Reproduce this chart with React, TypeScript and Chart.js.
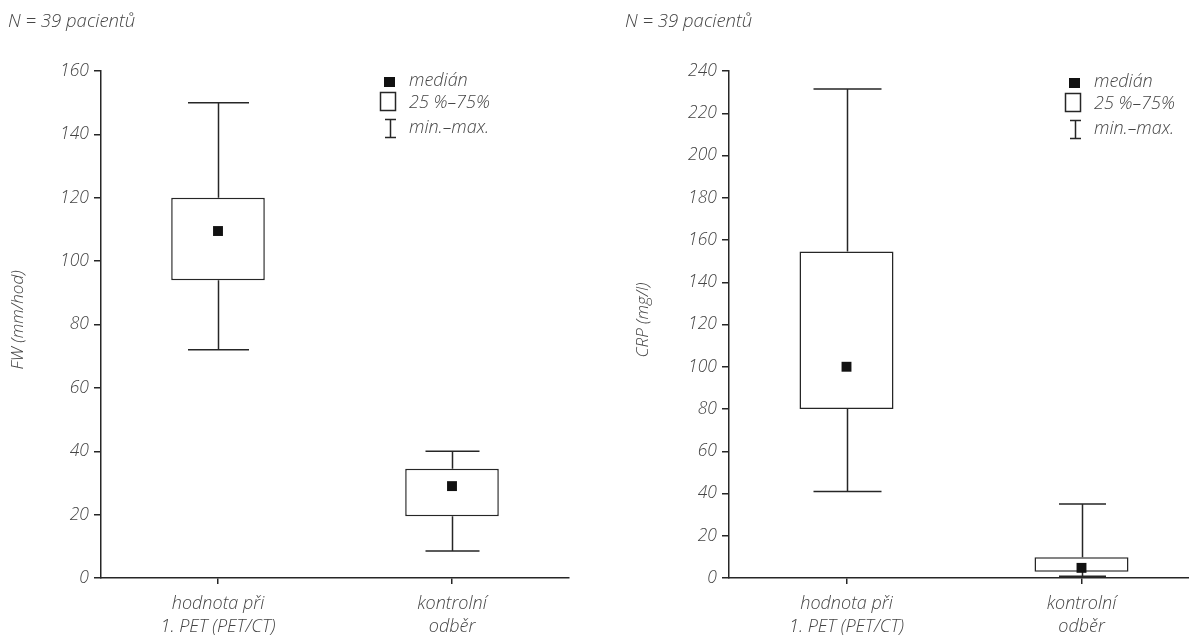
import React, { useEffect, useRef } from "react";
import { Chart, registerables } from "chart.js";

Chart.register(...registerables);

// ---------- data ----------
const categories = [["hodnota při", "1. PET (PET/CT)"], ["kontrolní", "odběr"]];
const titleText = "N = 39 pacientů";
const legendLabels = ["medián", "25 %–75%", "min.–max."];

const fwTitle = "FW (mm/hod)";
const fwMin = [72, 8.5];
const fwQ1 = [94, 19.5];
const fwMedian = [109.5, 29];
const fwQ3 = [120, 34.5];
const fwMax = [150, 40];
const fwAxisMax = 160;

const crpTitle = "CRP (mg/l)";
const crpMin = [41, 0.8];
const crpQ1 = [80, 3];
const crpMedian = [100, 4.8];
const crpQ3 = [154.5, 9.8];
const crpMax = [231.5, 35];
const crpAxisMax = 240;

const tickStep = 20;

// ---------- style ----------
const FONT = "'Open Sans', 'DejaVu Sans', sans-serif";
const TEXT = "#454545";
const LINE = "#262626";

type Cfg = {
  left: number;
  width: number;
  axisWidth: number;
  padRight: number;
  yTitle: string;
  mins: number[];
  q1: number[];
  med: number[];
  q3: number[];
  maxs: number[];
  yMax: number;
  caps: number[];
  titleX: number;
  yTitleX: number;
  legendX: number;
  legendY: number;
};

const H = 637;

const extrasPlugin = {
  id: "boxExtras",
  beforeDatasetsDraw(chart: any, _a: any, o: any) {
    const { ctx } = chart;
    const x = chart.scales.x;
    const y = chart.scales.y;
    ctx.save();
    ctx.strokeStyle = LINE;
    ctx.lineWidth = 1.5;
    o.mins.forEach((mn: number, i: number) => {
      const cx = Math.round(x.getPixelForValue(i)) + 0.5;
      const yMin = y.getPixelForValue(mn);
      const yMax = y.getPixelForValue(o.maxs[i]);
      const yQ1 = y.getPixelForValue(o.q1[i]);
      const yQ3 = y.getPixelForValue(o.q3[i]);
      const c = o.caps[i] / 2;
      ctx.beginPath();
      ctx.moveTo(cx, yMax);
      ctx.lineTo(cx, yQ3);
      ctx.moveTo(cx, yQ1);
      ctx.lineTo(cx, yMin);
      ctx.moveTo(cx - c, yMax);
      ctx.lineTo(cx + c, yMax);
      ctx.moveTo(cx - c, yMin);
      ctx.lineTo(cx + c, yMin);
      ctx.stroke();
    });
    ctx.restore();
  },
  afterDraw(chart: any, _a: any, o: any) {
    const { ctx } = chart;
    ctx.save();
    ctx.fillStyle = TEXT;
    ctx.textBaseline = "middle";
    // title
    ctx.font = `italic 300 18.5px ${FONT}`;
    ctx.textAlign = "left";
    ctx.fillText(o.title, o.titleX, 22);
    // y title
    ctx.save();
    ctx.translate(o.yTitleX, 320);
    ctx.rotate(-Math.PI / 2);
    ctx.textAlign = "center";
    ctx.font = `italic 300 17px ${FONT}`;
    ctx.fillText(o.yTitle, 0, 0);
    ctx.restore();
    // legend
    const lx = o.legendX;
    const ly = o.legendY;
    ctx.fillStyle = "#111";
    ctx.fillRect(lx, ly, 11, 10);
    ctx.strokeStyle = LINE;
    ctx.lineWidth = 1.5;
    ctx.strokeRect(lx - 3.5, ly + 15.5, 15, 18);
    ctx.beginPath();
    ctx.moveTo(lx + 6.5, ly + 42);
    ctx.lineTo(lx + 6.5, ly + 61);
    ctx.moveTo(lx + 1, ly + 42.5);
    ctx.lineTo(lx + 12, ly + 42.5);
    ctx.moveTo(lx + 1, ly + 60.5);
    ctx.lineTo(lx + 12, ly + 60.5);
    ctx.stroke();
    ctx.fillStyle = TEXT;
    ctx.font = `italic 300 18px ${FONT}`;
    ctx.textAlign = "left";
    const offs = [4, 26, 51];
    o.labels.forEach((t: string, i: number) => ctx.fillText(t, lx + 25, ly + offs[i]));
    ctx.restore();
  },
};

function BoxChart({ cfg }: { cfg: Cfg }) {
  const ref = useRef<HTMLCanvasElement>(null);
  useEffect(() => {
    if (!ref.current) return;
    const chart = new Chart(ref.current, {
      type: "bar",
      data: {
        labels: categories as any,
        datasets: [
          {
            type: "line",
            label: legendLabels[0],
            data: cfg.med,
            showLine: false,
            pointStyle: "rect",
            pointRadius: 7,
            pointBorderWidth: 0,
            pointBackgroundColor: "#111",
            order: 0,
          } as any,
          {
            type: "bar",
            label: legendLabels[1],
            data: cfg.q1.map((v, i) => [v, cfg.q3[i]]),
            backgroundColor: "#fff",
            borderColor: LINE,
            borderWidth: 1.5,
            borderSkipped: false,
            barPercentage: 0.4,
            categoryPercentage: 1,
            order: 1,
          } as any,
        ],
      },
      options: {
        responsive: false,
        animation: false,
        layout: { padding: { left: 0, right: cfg.padRight, top: 71, bottom: 0 } },
        plugins: {
          legend: { display: false },
          tooltip: { enabled: false },
          boxExtras: {
            mins: cfg.mins,
            maxs: cfg.maxs,
            q1: cfg.q1,
            q3: cfg.q3,
            caps: cfg.caps,
            title: titleText,
            titleX: cfg.titleX,
            yTitle: cfg.yTitle,
            yTitleX: cfg.yTitleX,
            legendX: cfg.legendX,
            legendY: cfg.legendY,
            labels: legendLabels,
          },
        } as any,
        scales: {
          x: {
            offset: true,
            grid: {
              offset: false,
              drawOnChartArea: false,
              drawTicks: true,
              tickLength: 6,
              color: LINE,
              lineWidth: 1.5,
            },
            border: { display: true, color: LINE, width: 1.5 },
            ticks: {
              color: TEXT,
              font: { family: FONT, size: 18, style: "italic", weight: 300, lineHeight: 1.3 },
              padding: 8,
              maxRotation: 0,
              autoSkip: false,
            },
            afterFit: (s: any) => {
              s.height = H - 578;
            },
          },
          y: {
            min: 0,
            max: cfg.yMax,
            ticks: {
              stepSize: tickStep,
              color: TEXT,
              font: { family: FONT, size: 17.5, style: "italic", weight: 300 },
              padding: 5,
            },
            grid: {
              drawOnChartArea: false,
              drawTicks: true,
              tickLength: 7,
              color: LINE,
              lineWidth: 1.5,
            },
            border: { display: true, color: LINE, width: 1.5 },
            afterFit: (s: any) => {
              s.width = cfg.axisWidth;
            },
          },
        },
      },
      plugins: [extrasPlugin],
    });
    return () => chart.destroy();
  }, [cfg]);
  return (
    <canvas
      ref={ref}
      width={cfg.width}
      height={H}
      style={{ position: "absolute", left: cfg.left, top: 0, width: cfg.width, height: H }}
    />
  );
}

const leftCfg: Cfg = {
  left: 0,
  width: 594,
  axisWidth: 101,
  padRight: 25,
  yTitle: fwTitle,
  mins: fwMin,
  q1: fwQ1,
  med: fwMedian,
  q3: fwQ3,
  maxs: fwMax,
  yMax: fwAxisMax,
  caps: [61, 54],
  titleX: 8,
  yTitleX: 18,
  legendX: 384,
  legendY: 77,
};

const rightCfg: Cfg = {
  left: 594,
  width: 615,
  axisWidth: 135,
  padRight: 10,
  yTitle: crpTitle,
  mins: crpMin,
  q1: crpQ1,
  med: crpMedian,
  q3: crpQ3,
  maxs: crpMax,
  yMax: crpAxisMax,
  caps: [68, 47],
  titleX: 31,
  yTitleX: 49,
  legendX: 1069 - 594,
  legendY: 78,
};

export default function App() {
  return (
    <div
      style={{
        position: "fixed",
        left: 0,
        top: 0,
        width: 1189,
        height: 637,
        overflow: "hidden",
        background: "#fff",
      }}
    >
      <BoxChart cfg={leftCfg} />
      <BoxChart cfg={rightCfg} />
    </div>
  );
}
